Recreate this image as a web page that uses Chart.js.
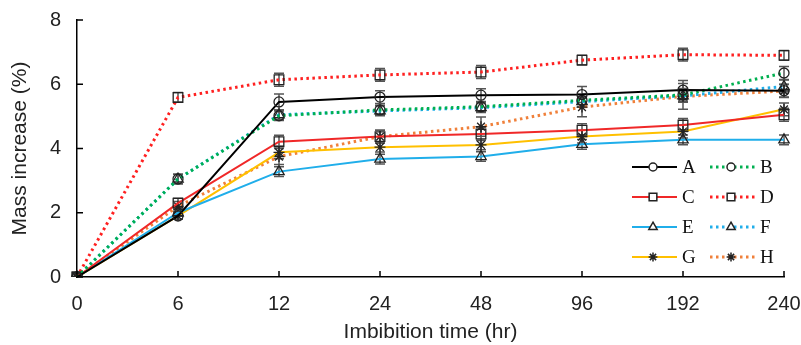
<!DOCTYPE html>
<html>
<head>
<meta charset="utf-8">
<style>
    html, body { margin: 0; padding: 0; background: #fff; }
    .wrap { width: 801px; height: 345px; }
</style>
</head>
<body>
<div class="wrap">
    <canvas id="massChart" width="801" height="345"></canvas>
</div>
<script src="https://cdn.jsdelivr.net/npm/chart.js"></script>
<script>
    // imbibition times (hr), plotted as evenly spaced categories
    const hours = ['0', '6', '12', '24', '48', '96', '192', '240'];
    const seriesNames = ['A', 'B', 'C', 'D', 'E', 'F', 'G', 'H'];

    // mass increase (%)
    const valA = [0, 1.90, 5.45, 5.60, 5.66, 5.68, 5.82, 5.80];
    const valB = [0, 3.05, 5.02, 5.20, 5.30, 5.50, 5.67, 6.35];
    const valC = [0, 2.30, 4.21, 4.37, 4.45, 4.57, 4.73, 5.05];
    const valD = [0, 5.59, 6.14, 6.29, 6.38, 6.75, 6.92, 6.90];
    const valE = [0, 2.00, 3.28, 3.67, 3.75, 4.13, 4.27, 4.27];
    const valF = [0, 3.05, 5.05, 5.17, 5.27, 5.46, 5.64, 5.93];
    const valG = [0, 1.90, 3.88, 4.04, 4.11, 4.37, 4.53, 5.22];
    const valH = [0, 2.20, 3.75, 4.37, 4.68, 5.29, 5.62, 5.79];

    // error bar half lengths (%)
    const errA = [0, 0.10, 0.25, 0.20, 0.20, 0.25, 0.30, 0.20];
    const errB = [0, 0.15, 0.15, 0.15, 0.15, 0.20, 0.20, 0.20];
    const errC = [0, 0.15, 0.20, 0.20, 0.20, 0.20, 0.20, 0.20];
    const errD = [0, 0.15, 0.20, 0.20, 0.20, 0.15, 0.20, 0.15];
    const errE = [0, 0.10, 0.15, 0.15, 0.15, 0.15, 0.15, 0.15];
    const errF = [0, 0.15, 0.15, 0.15, 0.15, 0.15, 0.20, 0.20];
    const errG = [0, 0.10, 0.20, 0.15, 0.15, 0.20, 0.20, 0.20];
    const errH = [0, 0.15, 0.25, 0.20, 0.30, 0.30, 0.40, 0.20];

    const yTicks = [0, 2, 4, 6, 8];

    const allVals = [valA, valB, valC, valD, valE, valF, valG, valH];
    const allErrs = [errA, errB, errC, errD, errE, errF, errG, errH];

    const colors = ['#000000', '#00B050', '#F02828', '#FF2020', '#20AEEA', '#20AEEA', '#FFC000', '#F0803A'];
    const markers = ['circle', 'circle', 'rect', 'rect', 'triangle', 'triangle', 'star', 'star'];
    const markerSize = [5, 5, 6.8, 6.8, 6, 6, 5.5, 5.5];
    const dotted = [false, true, false, true, false, true, false, true];

    const datasets = seriesNames.map((name, i) => ({
        label: name,
        data: allVals[i],
        borderColor: colors[i],
        borderWidth: dotted[i] ? 3 : 2,
        borderDash: dotted[i] ? [2.5, 3.5] : [],
        pointStyle: markers[i],
        pointRadius: markerSize[i],
        pointBorderColor: '#222',
        pointBorderWidth: 1.3,
        pointBackgroundColor: 'rgba(255,255,255,0)',
        fill: false,
        tension: 0
    }));

    // error bars, drawn under the lines
    const errorBars = {
        id: 'errorBars',
        beforeDatasetsDraw(chart) {
            const ctx = chart.ctx;
            const xs = chart.scales.x, ys = chart.scales.y;
            ctx.save();
            ctx.strokeStyle = '#555';
            ctx.lineWidth = 1.5;
            allVals.forEach((vals, i) => {
                vals.forEach((v, j) => {
                    const e = allErrs[i][j];
                    if (!e) return;
                    const px = xs.getPixelForValue(j);
                    const t = ys.getPixelForValue(v + e);
                    const b = ys.getPixelForValue(v - e);
                    ctx.beginPath();
                    ctx.moveTo(px, t); ctx.lineTo(px, b);
                    ctx.moveTo(px - 5, t); ctx.lineTo(px + 5, t);
                    ctx.moveTo(px - 5, b); ctx.lineTo(px + 5, b);
                    ctx.stroke();
                });
            });
            ctx.restore();
        }
    };

    // inward tick marks + legend inside the plot
    const extras = {
        id: 'extras',
        afterDraw(chart) {
            const ctx = chart.ctx;
            const xs = chart.scales.x, ys = chart.scales.y;
            const area = chart.chartArea;
            ctx.save();
            ctx.strokeStyle = '#000';
            ctx.lineWidth = 1.5;
            ctx.beginPath();
            yTicks.forEach(v => {
                const py = ys.getPixelForValue(v);
                ctx.moveTo(area.left, py); ctx.lineTo(area.left + 6, py);
            });
            hours.forEach((h, j) => {
                const px = xs.getPixelForValue(j);
                ctx.moveTo(px, area.bottom); ctx.lineTo(px, area.bottom - 6);
            });
            ctx.stroke();

            // legend
            const colX = [632, 710];
            const rowY = [167, 197, 227, 257];
            ctx.font = '19px "Liberation Serif", "Times New Roman", serif';
            ctx.textBaseline = 'middle';
            ctx.textAlign = 'left';
            chart.data.datasets.forEach((ds, i) => {
                const cx = colX[i % 2];
                const cy = rowY[Math.floor(i / 2)];
                ctx.save();
                ctx.strokeStyle = ds.borderColor;
                ctx.lineWidth = ds.borderWidth;
                ctx.setLineDash(ds.borderDash);
                ctx.beginPath();
                ctx.moveTo(cx, cy); ctx.lineTo(cx + 45, cy);
                ctx.stroke();
                ctx.restore();
                ctx.save();
                ctx.strokeStyle = '#222';
                ctx.lineWidth = 1.5;
                ctx.fillStyle = '#fff';
                Chart.helpers.drawPoint(ctx, {pointStyle: ds.pointStyle, radius: ds.pointRadius * 0.8, borderWidth: 1.5, rotation: 0}, cx + 21, cy);
                ctx.restore();
                ctx.fillStyle = '#111';
                ctx.fillText(ds.label, cx + 50, cy + 1);
            });
            ctx.restore();
        }
    };

    const axisFont = {family: '"Liberation Sans", Arial, sans-serif', size: 20};
    const titleFont = {family: '"Liberation Sans", Arial, sans-serif', size: 21};

    const massChart = new Chart(document.getElementById('massChart').getContext('2d'), {
        type: 'line',
        data: {labels: hours, datasets: datasets},
        options: {
            responsive: false,
            animation: false,
            layout: {padding: {top: 20, right: 17, left: 0, bottom: 0}},
            plugins: {legend: {display: false}, tooltip: {enabled: false}},
            scales: {
                x: {
                    type: 'category',
                    offset: false,
                    grid: {display: false, drawTicks: false},
                    border: {display: true, color: '#000', width: 1.5},
                    ticks: {color: '#222', font: axisFont, padding: 15, maxRotation: 0, autoSkip: false},
                    title: {display: true, text: 'Imbibition time (hr)', color: '#222', font: titleFont, padding: {top: 0, bottom: 0}},
                    afterFit: s => { s.height = 68; s.paddingRight = 0; s.paddingLeft = 0; }
                },
                y: {
                    min: 0,
                    max: 8,
                    afterBuildTicks: s => { s.ticks = yTicks.map(v => ({value: v})); },
                    grid: {display: false, drawTicks: false},
                    border: {display: true, color: '#000', width: 1.5},
                    ticks: {color: '#222', font: axisFont, padding: 16},
                    title: {display: true, text: 'Mass increase (%)', color: '#222', font: titleFont, padding: {top: 8, bottom: 0}},
                    afterFit: s => { s.width = 77; s.paddingTop = 0; s.paddingBottom = 0; }
                }
            }
        },
        plugins: [errorBars, extras]
    });
</script>
</body>
</html>
